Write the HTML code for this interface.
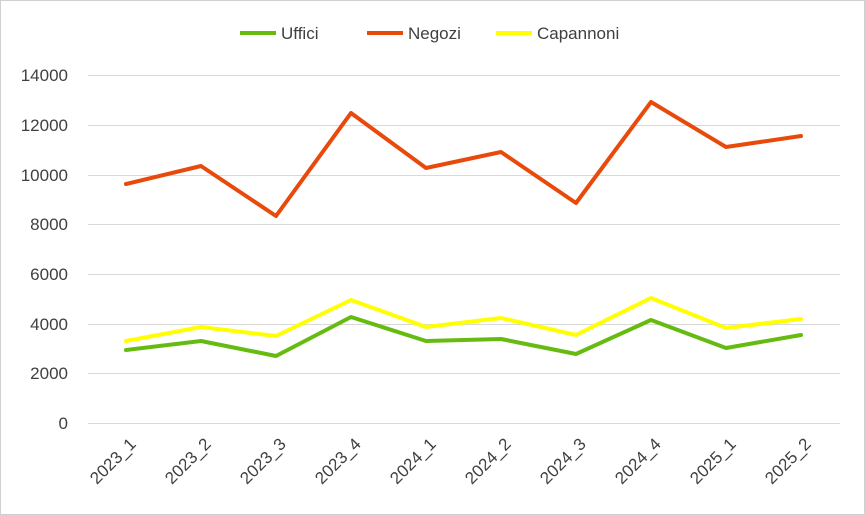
<!DOCTYPE html>
<html><head><meta charset="utf-8"><style>
body{margin:0;background:#fff;}
svg{display:block;font-family:"Liberation Sans",Arial,sans-serif;}
</style></head><body>
<svg width="865" height="515" viewBox="0 0 865 515" xmlns="http://www.w3.org/2000/svg">
<rect x="0.5" y="0.5" width="864" height="514" fill="#fff" stroke="#d0d0d0"/>
<g stroke="#d9d9d9" stroke-width="1">
<line x1="88" x2="840" y1="75.5" y2="75.5"/>
<line x1="88" x2="840" y1="125.5" y2="125.5"/>
<line x1="88" x2="840" y1="175.5" y2="175.5"/>
<line x1="88" x2="840" y1="224.5" y2="224.5"/>
<line x1="88" x2="840" y1="274.5" y2="274.5"/>
<line x1="88" x2="840" y1="324.5" y2="324.5"/>
<line x1="88" x2="840" y1="373.5" y2="373.5"/>
<line x1="88" x2="840" y1="423.5" y2="423.5"/>
</g>
<g font-size="17" fill="#404040" text-anchor="end">
<text x="68" y="81">14000</text>
<text x="68" y="131">12000</text>
<text x="68" y="181">10000</text>
<text x="68" y="230">8000</text>
<text x="68" y="280">6000</text>
<text x="68" y="330">4000</text>
<text x="68" y="379">2000</text>
<text x="68" y="429">0</text>
</g>
<g font-size="17" fill="#404040" text-anchor="end">
<text transform="translate(137,445) rotate(-45)">2023_1</text>
<text transform="translate(212,445) rotate(-45)">2023_2</text>
<text transform="translate(287,445) rotate(-45)">2023_3</text>
<text transform="translate(362,445) rotate(-45)">2023_4</text>
<text transform="translate(437,445) rotate(-45)">2024_1</text>
<text transform="translate(512,445) rotate(-45)">2024_2</text>
<text transform="translate(587,445) rotate(-45)">2024_3</text>
<text transform="translate(662,445) rotate(-45)">2024_4</text>
<text transform="translate(737,445) rotate(-45)">2025_1</text>
<text transform="translate(812,445) rotate(-45)">2025_2</text>
</g>
<g fill="none" stroke-width="4" stroke-linejoin="round" stroke-linecap="round">
<polyline stroke="#ffff00" points="126,341 201,327 276,336 351,300 426,327 501,318 576,335 651,298 726,328 801,319"/>
<polyline stroke="#66bb11" points="126,350 201,341 276,356 351,317 426,341 501,339 576,354 651,320 726,348 801,335"/>
<polyline stroke="#e84a0c" points="126,184 201,166 276,216 351,113 426,168 501,152 576,203 651,102 726,147 801,136"/>
</g>
<g font-size="17" fill="#404040">
<line x1="240" x2="276" y1="33" y2="33" stroke="#66bb11" stroke-width="4"/>
<text x="281" y="39">Uffici</text>
<line x1="367" x2="403" y1="33" y2="33" stroke="#e84a0c" stroke-width="4"/>
<text x="408" y="39">Negozi</text>
<line x1="496" x2="532" y1="33" y2="33" stroke="#ffff00" stroke-width="4"/>
<text x="537" y="39">Capannoni</text>
</g>
</svg>
</body></html>
